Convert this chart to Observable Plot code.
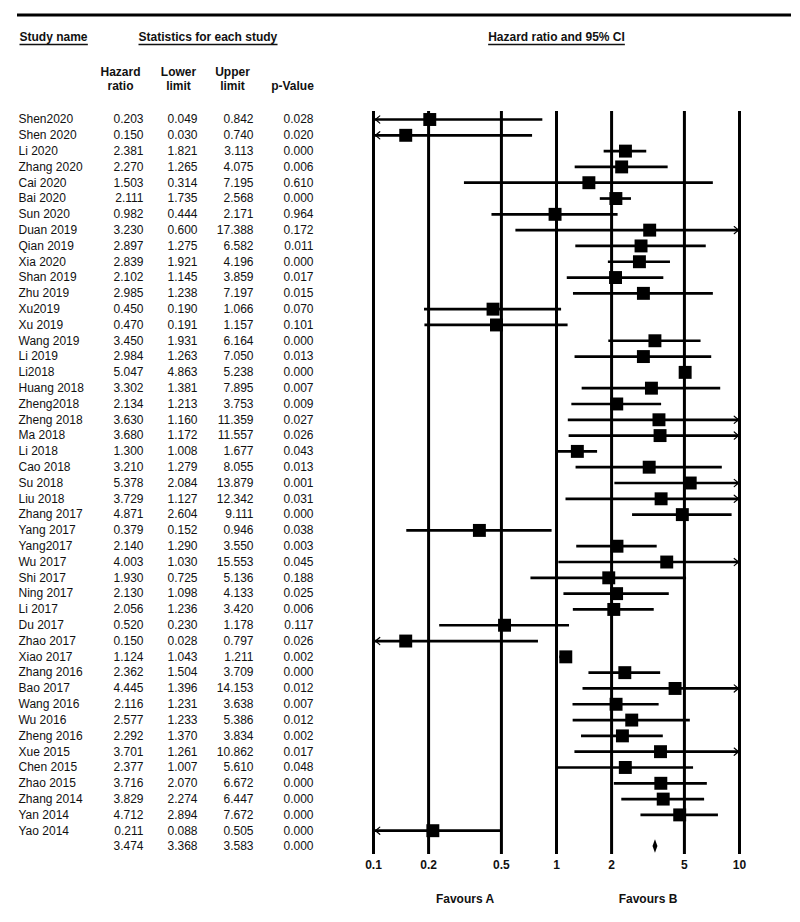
<!DOCTYPE html>
<html>
<head>
<meta charset="utf-8">
<script src="https://cdn.jsdelivr.net/npm/d3@7"></script>
<script src="https://cdn.jsdelivr.net/npm/@observablehq/plot@0.6"></script>
<style>
  html, body { margin: 0; padding: 0; background: #fff; }
  #chart { width: 800px; height: 922px; overflow: hidden; }
</style>
</head>
<body>
<div id="chart"></div>
<script>
// ---------------- data ----------------
const studyNames = [
  "Shen2020", "Shen 2020", "Li 2020", "Zhang 2020", "Cai 2020", "Bai 2020", "Sun 2020",
  "Duan 2019", "Qian 2019", "Xia 2020", "Shan 2019", "Zhu 2019", "Xu2019", "Xu 2019",
  "Wang 2019", "Li 2019", "Li2018", "Huang 2018", "Zheng2018", "Zheng 2018", "Ma 2018",
  "Li 2018", "Cao 2018", "Su 2018", "Liu 2018", "Zhang 2017", "Yang 2017", "Yang2017",
  "Wu 2017", "Shi 2017", "Ning 2017", "Li 2017", "Du 2017", "Zhao 2017", "Xiao 2017",
  "Zhang 2016", "Bao 2017", "Wang 2016", "Wu 2016", "Zheng 2016", "Xue 2015", "Chen 2015",
  "Zhao 2015", "Zhang 2014", "Yan 2014", "Yao 2014"
];
const hazardRatio = [
  0.203, 0.150, 2.381, 2.270, 1.503, 2.111, 0.982,
  3.230, 2.897, 2.839, 2.102, 2.985, 0.450, 0.470,
  3.450, 2.984, 5.047, 3.302, 2.134, 3.630, 3.680,
  1.300, 3.210, 5.378, 3.729, 4.871, 0.379, 2.140,
  4.003, 1.930, 2.130, 2.056, 0.520, 0.150, 1.124,
  2.362, 4.445, 2.116, 2.577, 2.292, 3.701, 2.377,
  3.716, 3.829, 4.712, 0.211
];
const lowerLimit = [
  0.049, 0.030, 1.821, 1.265, 0.314, 1.735, 0.444,
  0.600, 1.275, 1.921, 1.145, 1.238, 0.190, 0.191,
  1.931, 1.263, 4.863, 1.381, 1.213, 1.160, 1.172,
  1.008, 1.279, 2.084, 1.127, 2.604, 0.152, 1.290,
  1.030, 0.725, 1.098, 1.236, 0.230, 0.028, 1.043,
  1.504, 1.396, 1.231, 1.233, 1.370, 1.261, 1.007,
  2.070, 2.274, 2.894, 0.088
];
const upperLimit = [
  0.842, 0.740, 3.113, 4.075, 7.195, 2.568, 2.171,
  17.388, 6.582, 4.196, 3.859, 7.197, 1.066, 1.157,
  6.164, 7.050, 5.238, 7.895, 3.753, 11.359, 11.557,
  1.677, 8.055, 13.879, 12.342, 9.111, 0.946, 3.550,
  15.553, 5.136, 4.133, 3.420, 1.178, 0.797, 1.211,
  3.709, 14.153, 3.638, 5.386, 3.834, 10.862, 5.610,
  6.672, 6.447, 7.672, 0.505
];
const pValue = [
  0.028, 0.020, 0.000, 0.006, 0.610, 0.000, 0.964,
  0.172, 0.011, 0.000, 0.017, 0.015, 0.070, 0.101,
  0.000, 0.013, 0.000, 0.007, 0.009, 0.027, 0.026,
  0.043, 0.013, 0.001, 0.031, 0.000, 0.038, 0.003,
  0.045, 0.188, 0.025, 0.006, 0.117, 0.026, 0.002,
  0.000, 0.012, 0.007, 0.012, 0.002, 0.017, 0.048,
  0.000, 0.000, 0.000, 0.000
];
// pooled estimate: hazard ratio, lower, upper, p
const summaryStats = [3.474, 3.368, 3.583, 0.000];
const axisTicks = [0.1, 0.2, 0.5, 1, 2, 5, 10];
const favourLabels = ["Favours A", "Favours B"];
const columnHeaders = ["Hazard\nratio", "Lower\nlimit", "Upper\nlimit", "p-Value"];
const sectionHeaders = ["Study name", "Statistics for each study"];
const plotTitle = "Hazard ratio and 95% CI";

// ---------------- build tables ----------------
const studies = studyNames.map((name, i) => ({
  i, name, hr: hazardRatio[i], lower: lowerLimit[i], upper: upperLimit[i], p: pValue[i]
}));
const summaryRow = {
  i: studies.length, name: "",
  hr: summaryStats[0], lower: summaryStats[1], upper: summaryStats[2], p: summaryStats[3]
};
const allRows = [...studies, summaryRow];
const nRows = allRows.length;

const xMin = axisTicks[0];
const xMax = axisTicks[axisTicks.length - 1];
const fmt = d3.format(".3f");

const diamondHalf = 0.42; // half-height of pooled diamond, in rows
const diamond = [
  {y: summaryRow.i - diamondHalf, x1: summaryRow.hr, x2: summaryRow.hr},
  {y: summaryRow.i, x1: summaryRow.lower, x2: summaryRow.upper},
  {y: summaryRow.i + diamondHalf, x1: summaryRow.hr, x2: summaryRow.hr}
];

const numberColumns = [
  {key: "hr", right: 143},
  {key: "lower", right: 197},
  {key: "upper", right: 253},
  {key: "p", right: 313}
];
const headerCenters = [120, 178, 232, 292];
const headerDy = [78, 78, 78, 85];

const favourPos = [
  Math.sqrt(xMin * 1),
  Math.sqrt(1 * xMax)
];

const FONT = "'Liberation Sans', Arial, Helvetica, sans-serif";

const chart = Plot.plot({
  width: 800,
  height: 922,
  marginLeft: 0,
  marginRight: 0,
  marginTop: 0,
  marginBottom: 68,
  style: {fontFamily: FONT, fontSize: "12px", color: "#111", background: "#fff"},
  x: {
    type: "log",
    domain: [xMin, xMax],
    range: [373, 739],
    ticks: axisTicks,
    tickFormat: d => `${d}`,
    tickSize: 0,
    tickPadding: 6,
    label: null
  },
  y: {domain: [0, nRows - 1], range: [119, 846], axis: null},
  marks: [
    // reference lines at tick values
    Plot.ruleX(axisTicks, {y1: -0.5, y2: nRows - 0.5, stroke: "#000", strokeWidth: 3}),
    // confidence intervals (clipped at axis limits)
    Plot.ruleY(studies, {
      y: "i",
      x1: d => Math.max(d.lower, xMin),
      x2: d => Math.min(d.upper, xMax),
      stroke: "#000",
      strokeWidth: 2.7
    }),
    // arrows for clipped intervals
    Plot.arrow(studies.filter(d => d.lower < xMin), {
      x1: () => xMin * 1.6, x2: () => xMin, y1: "i", y2: "i",
      stroke: "#000", strokeWidth: 1.2, headLength: 7, headAngle: 80, insetEnd: 2
    }),
    Plot.arrow(studies.filter(d => d.upper > xMax), {
      x1: () => xMax / 1.6, x2: () => xMax, y1: "i", y2: "i",
      stroke: "#000", strokeWidth: 1.2, headLength: 7, headAngle: 80, insetEnd: 1
    }),
    // point estimates
    Plot.dot(studies, {x: "hr", y: "i", symbol: "square", r: 7.3, fill: "#000", stroke: "none"}),
    // pooled diamond
    Plot.areaX(diamond, {y: "y", x1: "x1", x2: "x2", fill: "#000"}),
    // table: study names
    Plot.text(allRows, {y: "i", text: "name", frameAnchor: "left", dx: 18, textAnchor: "start", fontSize: 12}),
    // table: numeric columns
    ...numberColumns.map(c => Plot.text(allRows, {
      y: "i", text: d => fmt(d[c.key]), frameAnchor: "left", dx: c.right, textAnchor: "end", fontSize: 12
    })),
    // column headers
    ...columnHeaders.map((h, k) => Plot.text([h], {
      frameAnchor: "top-left", dx: headerCenters[k], dy: headerDy[k], lineAnchor: "middle",
      textAnchor: "middle", fontWeight: "bold", fontSize: 12, lineHeight: 1.17
    })),
    // section headers
    Plot.text([sectionHeaders[0]], {frameAnchor: "top-left", dx: 19, dy: 37, lineAnchor: "middle", textAnchor: "start", fontWeight: "bold", fontSize: 12}),
    Plot.text([sectionHeaders[1]], {frameAnchor: "top-left", dx: 138, dy: 37, lineAnchor: "middle", textAnchor: "start", fontWeight: "bold", fontSize: 12}),
    Plot.text([1], {x: d => d, text: () => plotTitle, frameAnchor: "top", dy: 37, lineAnchor: "middle", textAnchor: "middle", fontWeight: "bold", fontSize: 12}),
    // favours labels
    Plot.text(favourLabels, {x: (d, i) => favourPos[i], text: d => d, frameAnchor: "top", dy: 899, lineAnchor: "middle", textAnchor: "middle", fontWeight: "bold", fontSize: 12})
  ]
});

document.getElementById("chart").append(chart);

// ---------------- decorations ----------------
const svg = d3.select(chart.tagName.toLowerCase() === "svg" ? chart : chart.querySelector("svg"));
const tickSet = new Set(axisTicks.map(d => `${d}`));
svg.selectAll("text").filter(function () {
  return tickSet.has(this.textContent);
}).attr("font-weight", "bold").attr("font-size", 12).attr("fill", "#111");

// top rule
svg.append("line")
  .attr("x1", 17).attr("x2", 791).attr("y1", 15).attr("y2", 15)
  .attr("stroke", "#000").attr("stroke-width", 3);

// underlines for section headers
const underlined = new Set([...sectionHeaders, plotTitle]);
svg.selectAll("text").filter(function () {
  return underlined.has(this.textContent);
}).each(function () {
  const b = this.getBBox();
  const m = this.getCTM();
  const x0 = b.x + (m ? m.e : 0);
  svg.append("line")
    .attr("x1", x0).attr("x2", x0 + b.width)
    .attr("y1", 44.5).attr("y2", 44.5)
    .attr("stroke", "#111").attr("stroke-width", 1.6);
});
</script>
</body>
</html>
